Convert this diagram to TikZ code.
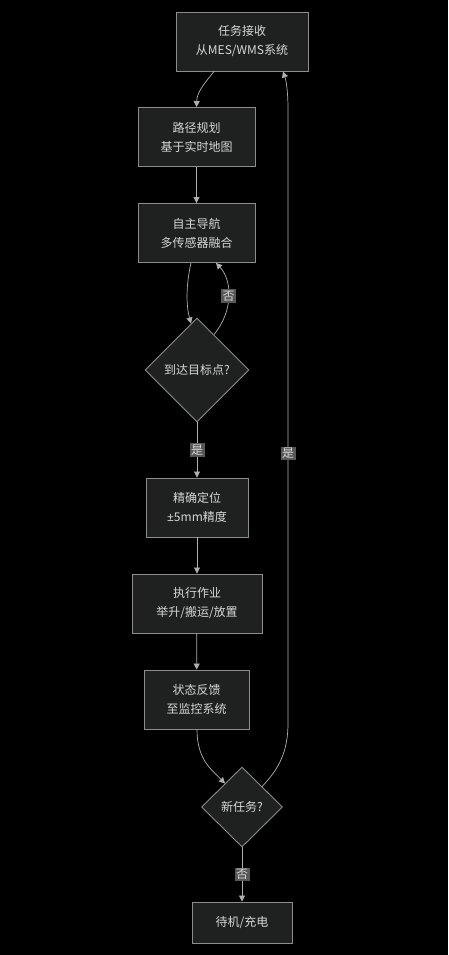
\documentclass[tikz,border=0pt]{standalone}
\usepackage{fontspec}
\setmainfont{Noto Sans CJK SC}
\newfontfamily\latinfont{Noto Sans}
\usetikzlibrary{shapes.geometric,arrows.meta}
\definecolor{boxfill}{HTML}{1F2020}
\definecolor{boxline}{HTML}{8C8C8C}
\definecolor{boxtext}{HTML}{D6D6D6}
\definecolor{flowline}{HTML}{B0B0B0}
\definecolor{lblfill}{HTML}{575757}

\begin{document}
\begin{tikzpicture}[x=1pt,y=-1pt,
  stepbox/.style={draw=boxline,fill=boxfill,text=boxtext,line width=0.9pt,
    font=\fontsize{12}{19}\selectfont,align=center,minimum height=59pt,inner sep=0pt},
  askbox/.style={diamond,draw=boxline,fill=boxfill,text=boxtext,line width=0.9pt,
    font=\fontsize{12}{19}\selectfont,inner sep=0pt},
  flow/.style={draw=flowline,line width=0.7pt,-{Triangle[length=6pt,width=6pt]}},
  lbl/.style={fill=lblfill,text=boxtext,font=\fontsize{12}{14}\selectfont,inner sep=1.5pt}]
\fill[black] (0,0) rectangle (448,955);
\useasboundingbox (0,0) rectangle (448,955);
% nodes
\node[stepbox,minimum width=132pt] (task) at (242,41.5) {任务接收\\从MES/WMS系统};
\node[stepbox,minimum width=117pt] (plan) at (196.5,137) {路径规划\\基于实时地图};
\node[stepbox,minimum width=117pt] (nav) at (196.5,233) {自主导航\\多传感器融合};
\node[askbox,minimum width=104pt,minimum height=104pt] (reach) at (197,370) {到达目标点?};
\node[stepbox,minimum width=102pt] (fine) at (197,507.5) {精确定位\\{\latinfont ±}5mm精度};
\node[stepbox,minimum width=130pt] (work) at (197,603.5) {执行作业\\举升/搬运/放置};
\node[stepbox,minimum width=105pt] (report) at (196.5,699.5) {状态反馈\\至监控系统};
\node[askbox,minimum width=81pt,minimum height=80pt] (newtask) at (242,807) {新任务?};
\node[stepbox,minimum width=100pt,minimum height=41pt] (idle) at (242,922.5) {待机/充电};
% connectors
\draw[flow] ([xshift=-28pt]task.south) .. controls (204,84) and (197,92) .. (plan.north);
\draw[flow] (plan) -- (nav);
\draw[flow] ([xshift=-5.5pt]nav.south) .. controls (186,285) and (186,305) .. ([shift={(-6,6)}]reach.north);
\draw[flow] ([shift={(17,17)}]reach.north) .. controls (234,310) and (232,280) .. node[lbl]{否} ([xshift=19.5pt]nav.south);
\draw[flow] (reach) -- node[lbl]{是} (fine);
\draw[flow] (fine) -- (work);
\draw[flow] (work) -- (report);
\draw[flow] ([xshift=0.5pt]report.south) .. controls (197,760) and (212,770) .. ([shift={(-17,17)}]newtask.north);
\draw[flow] ([shift={(20,20)}]newtask.north) .. controls (280,768) and (288,750) .. (288,723)
  -- node[lbl,pos=0.44]{是} (288,110) .. controls (288,90) and (286,80) .. ([xshift=41pt]task.south);
\draw[flow] (newtask) -- node[lbl]{否} (idle);
\end{tikzpicture}
\end{document}
